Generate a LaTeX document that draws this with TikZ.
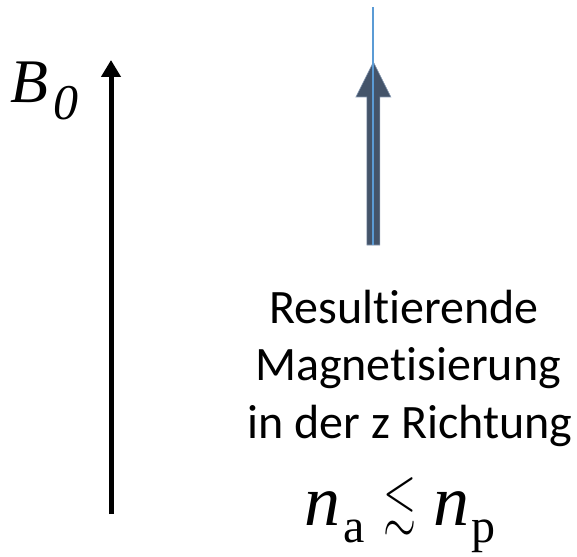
\documentclass[tikz,border=0pt]{standalone}
\usepackage{amssymb}
\usepackage{graphicx}
\usepackage{fontspec}
\setmainfont{Liberation Serif}
\newfontfamily\calib[Ligatures=NoCommon]{Carlito}
\usetikzlibrary{arrows.meta,calc}
\definecolor{shaftdark}{HTML}{44546A}
\definecolor{shaftedge}{HTML}{8497B0}
\definecolor{lineblue}{HTML}{5B9BD5}
\tikzset{
  fieldarrow/.style={line width=5pt,-{Triangle[width=19pt,length=17pt]}},
  caption/.style={font=\calib\fontsize{48}{48}\selectfont, anchor=base, inner sep=0pt},
  label/.style={inner sep=0pt, anchor=base west}
}
\begin{document}
\begin{tikzpicture}[x=1pt,y=-1pt]
\useasboundingbox (0,0) rectangle (577,556);
% B0 field arrow
\coordinate (b0bot) at (111,514);
\coordinate (b0top) at (111,60);
\draw[fieldarrow] (b0bot) -- (b0top);
\node[label] (b0lab) at (10,103) {\fontsize{62}{62}\selectfont\itshape B\hspace{5pt}\raisebox{-17pt}{\fontsize{50}{50}\selectfont 0}};
% resulting magnetisation arrow
\coordinate (mbot) at (373.4,245);
\coordinate (mtip) at (373.4,62);
\coordinate (mtop) at (373.4,7);
\filldraw[fill=shaftdark, draw=shaftedge, line width=0.6pt]
  ($(mbot)+(-6.5,0)$) -- ($(mbot)+(6.5,0)$) -- ($(mtip)+(6.5,35)$) -- ($(mtip)+(17.5,35)$)
  -- (mtip) -- ($(mtip)+(-17.5,35)$) -- ($(mtip)+(-6.5,35)$) -- cycle;
\draw[lineblue, line width=2pt] (mbot) -- (mtop);
% caption
\node[caption] (t1) at (404,323) {Resultierende};
\node[caption] (t2) at (408,380) {Magnetisierung};
\node[caption] (t3) at (410,438) {in der z Richtung};
% formula
\node[label] (form) at (304,525) {\fontsize{72}{72}\selectfont\itshape n\hspace{3pt}\raisebox{-17pt}{\upshape\fontsize{48}{48}\selectfont a}\hspace{19pt}\raisebox{4pt}{\scalebox{0.85}[1.2]{\fontsize{50}{50}\selectfont$\lesssim$}}\hspace{17pt}n\hspace{2pt}\raisebox{-17pt}{\upshape\fontsize{48}{48}\selectfont p}};
\end{tikzpicture}
\end{document}
